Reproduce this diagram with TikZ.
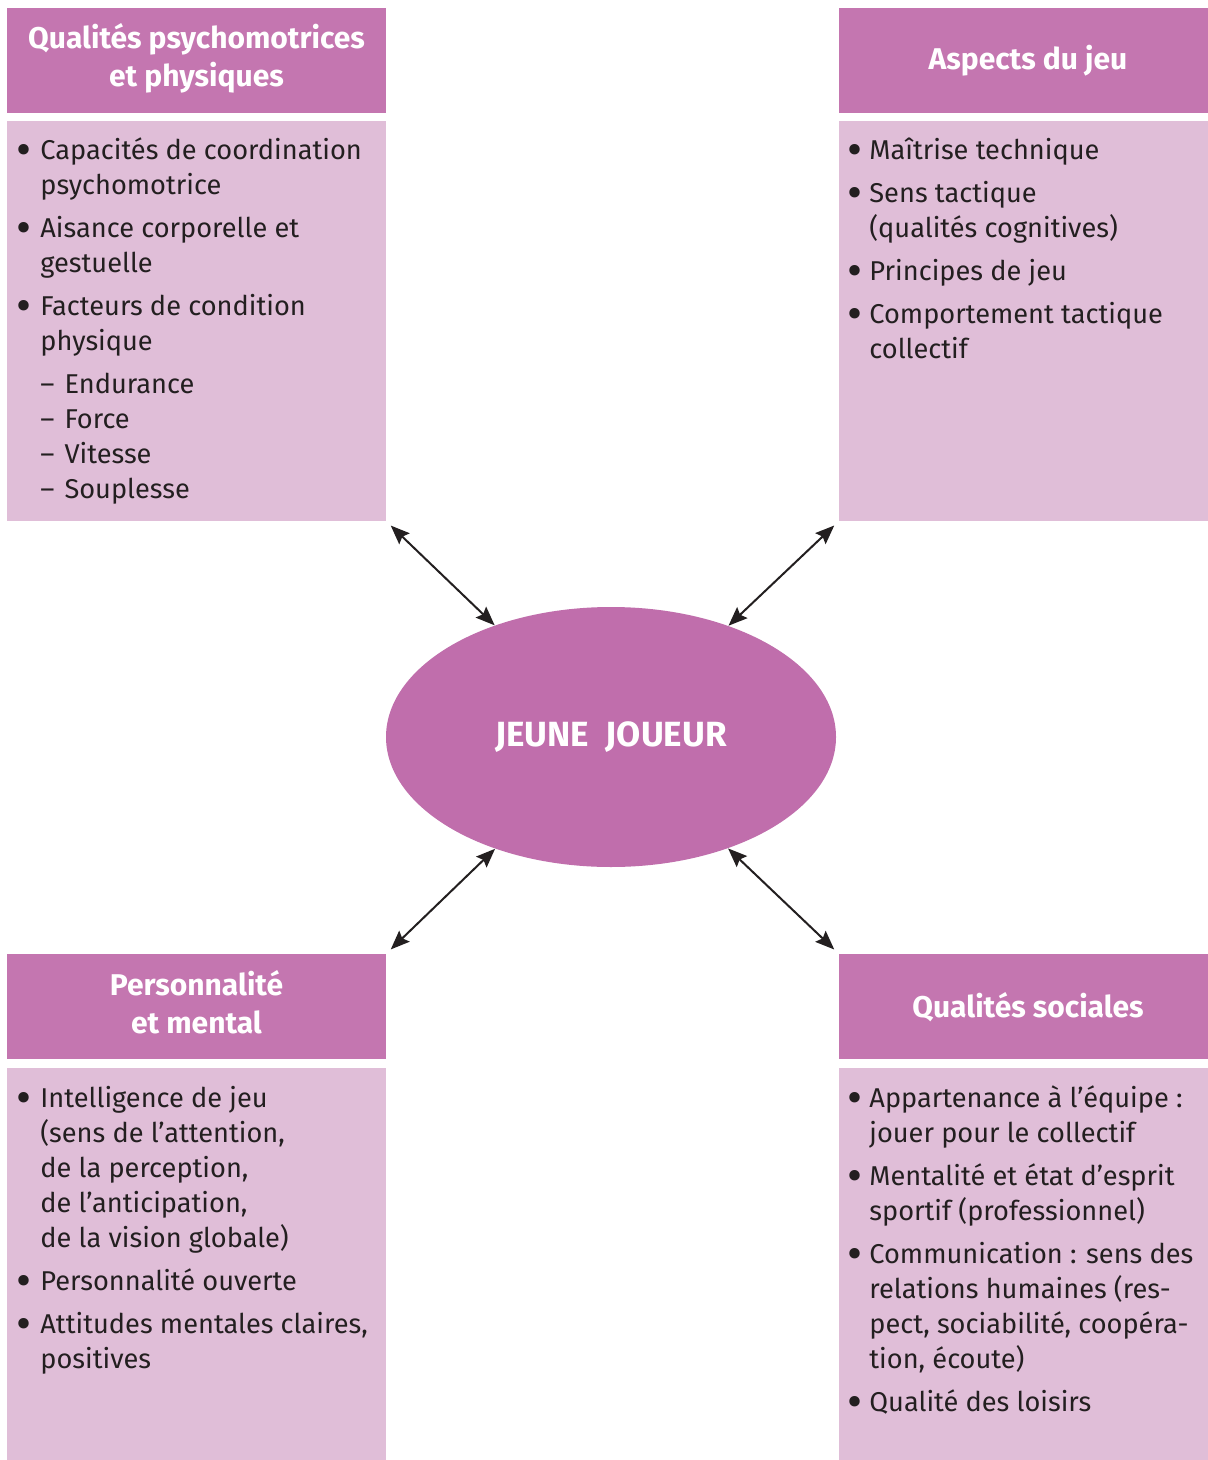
\documentclass[tikz,border=0pt]{standalone}
\usepackage{fontspec}
\usepackage{graphicx}
\setmainfont{Fira Sans}
\usetikzlibrary{shapes.geometric,arrows.meta}
\definecolor{hdr}{HTML}{C476B0}
\definecolor{bdy}{HTML}{E0BED8}
\definecolor{ellc}{HTML}{C06EAC}
\definecolor{ink}{HTML}{231F20}
\newcommand{\bigdot}{\raisebox{-3pt}{\scalebox{1.7}{\textbullet}}}
\newcommand{\bl}{\makebox[12pt][l]{\bigdot}}
\newcommand{\br}{\makebox[11pt][l]{\bigdot}}
\newcommand{\dsh}{\textendash\hspace{5pt}}
\begin{document}
\begin{tikzpicture}[x=0.5pt,y=-0.5pt,
  hdrbox/.style={fill=hdr, draw=none, inner sep=0, minimum height=52.5pt},
  bodybox/.style={fill=bdy, draw=none, inner sep=0},
  hdrtext/.style={text=white, font=\fontsize{15}{19}\selectfont\bfseries, align=center, inner sep=0},
  bodytext/.style={text=ink, font=\fontsize{13.6}{17.5}\selectfont, anchor=base west, inner sep=0},
  link/.style={draw=ink, line width=1pt, {Stealth[length=9.5pt,width=7.5pt,inset=1.5pt]}-{Stealth[length=9.5pt,width=7.5pt,inset=1.5pt]}, shorten <=3pt}
]
\useasboundingbox (0,0) rectangle (1208,1460);
\fill[white] (0,0) rectangle (1208,1460);

% top-left
\node[hdrbox, minimum width=189.5pt] (tlh) at (196.5,60.5) {};
\node[bodybox, minimum width=189.5pt, minimum height=200pt] (tlb) at (196.5,321) {};
\node[hdrtext] (tlt) at (196.5,58) {Qualités psychomotrices\\et physiques};
\node[bodytext] (tlx) at (16,160) {\begin{tabular}[t]{@{}l@{}l@{}}
\bl & Capacités de coordination\\
 & psychomotrice\\[4pt]
\bl & Aisance corporelle et\\
 & gestuelle\\[4pt]
\bl & Facteurs de condition\\
 & physique\\[4pt]
 & \dsh Endurance\\
 & \dsh Force\\
 & \dsh Vitesse\\
 & \dsh Souplesse
\end{tabular}};

% top-right
\node[hdrbox, minimum width=184.5pt] (trh) at (1023.5,60.5) {};
\node[bodybox, minimum width=184.5pt, minimum height=200pt] (trb) at (1023.5,321) {};
\node[hdrtext] (trt) at (1028,61) {Aspects du jeu};
\node[bodytext] (trx) at (847,160) {\begin{tabular}[t]{@{}l@{}l@{}}
\br & Maîtrise technique\\[4pt]
\br & Sens tactique\\
 & (qualités cognitives)\\[4pt]
\br & Principes de jeu\\[4pt]
\br & Comportement tactique\\
 & collectif
\end{tabular}};

% bottom-left
\node[hdrbox, minimum width=189.5pt] (blh) at (196.5,1006.5) {};
\node[bodybox, minimum width=189.5pt, minimum height=196pt] (blb) at (196.5,1264) {};
\node[hdrtext] (blt) at (196.5,1002) {Personnalité\\et mental};
\node[bodytext] (blx) at (16,1107) {\begin{tabular}[t]{@{}l@{}l@{}}
\bl & Intelligence de jeu\\
 & (sens de l’attention,\\
 & de la perception,\\
 & de l’anticipation,\\
 & de la vision globale)\\[4pt]
\bl & Personnalité ouverte\\[4pt]
\bl & Attitudes mentales claires,\\
 & positives
\end{tabular}};

% bottom-right
\node[hdrbox, minimum width=184.5pt] (brh) at (1023.5,1006.5) {};
\node[bodybox, minimum width=184.5pt, minimum height=196pt] (brb) at (1023.5,1264) {};
\node[hdrtext] (brt) at (1028,1007) {Qualités sociales};
\node[bodytext] (brx) at (847,1107) {\begin{tabular}[t]{@{}l@{}l@{}}
\br & Appartenance à l’équipe~:\\
 & jouer pour le collectif\\[4pt]
\br & Mentalité et état d’esprit\\
 & sportif (professionnel)\\[4pt]
\br & Communication~: sens des\\
 & relations humaines (res-\\
 & pect, sociabilité, coopéra-\\
 & tion, écoute)\\[4pt]
\br & Qualité des loisirs
\end{tabular}};

% centre
\node[ellipse, fill=ellc, draw=none, inner sep=0, minimum width=225pt, minimum height=130pt,
      text=white, font=\fontsize{17.5}{20}\selectfont\bfseries] (ell) at (611,737) {JEUNE\ \ JOUEUR};

% connectors
\draw[link] (tlb.south east) -- (ell);
\draw[link] (trb.south west) -- (ell);
\draw[link] (blh.north east) -- (ell);
\draw[link] (brh.north west) -- (ell);
\end{tikzpicture}
\end{document}
